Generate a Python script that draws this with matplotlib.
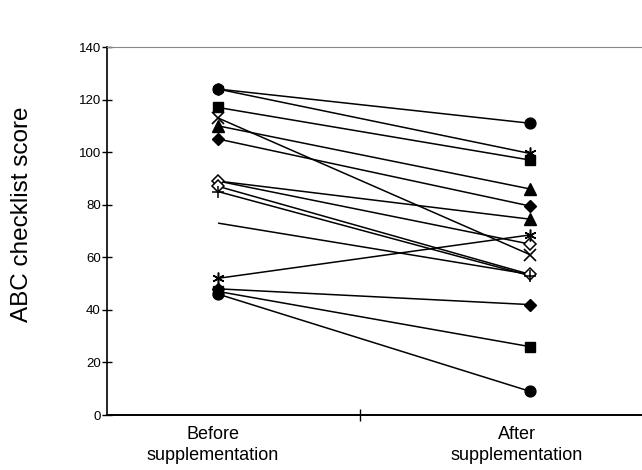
import matplotlib
matplotlib.use("Agg")
import matplotlib.pyplot as plt

plt.rcParams['font.family'] = ['Liberation Sans', 'DejaVu Sans']

# ---- data (ABC checklist scores per subject) ----
categories = ["Before\nsupplementation", "After\nsupplementation"]
before = [124, 124, 117, 113, 110, 105, 89, 89, 87, 85, 73, 52, 48, 47, 46]
after = [111, 99.5, 97, 61, 86, 79.5, 74.5, 65, 53.5, 53, 53.5, 68.5, 42, 26, 9]
left_marker = ['circle', 'star', 'square', 'x', 'tri', 'dia', 'none', 'odia', 'odia',
               'plus', 'none', 'star', 'dia', 'square', 'circle']
right_marker = ['circle', 'star', 'square', 'x', 'tri', 'dia', 'tri', 'odia', 'odia',
                'plus', 'none', 'star', 'dia', 'square', 'circle']
yticks = [0, 20, 40, 60, 80, 100, 120, 140]

styles = {
    'circle': dict(marker='o', ms=7.8, mfc='black', mec='black'),
    'square': dict(marker='s', ms=7.5, mfc='black', mec='black'),
    'tri': dict(marker='^', ms=8.0, mfc='black', mec='black'),
    'dia': dict(marker='D', ms=6.3, mfc='black', mec='black'),
    'odia': dict(marker='D', ms=6.3, mfc='white', mec='black', mew=1.1),
    'x': dict(marker='x', ms=8.0, mec='black', mew=1.2),
    'star': dict(marker=(6, 2, 0), ms=8.5, mec='black', mew=1.1),
    'plus': dict(marker='+', ms=8.5, mec='black', mew=1.1),
}

fig = plt.figure(figsize=(6.42, 4.70), dpi=100)
ax = fig.add_axes([107 / 642, 55 / 470, 535 / 642, 368 / 470])

xpos = [0, 1]
for b, a in zip(before, after):
    ax.plot(xpos, [b, a], color='black', lw=1.1, zorder=2, solid_capstyle='butt')
for b, lm in zip(before, left_marker):
    if lm != 'none':
        ax.plot([0], [b], linestyle='none', zorder=3, **styles[lm])
for a, rm in zip(after, right_marker):
    if rm != 'none':
        ax.plot([1], [a], linestyle='none', zorder=3, **styles[rm])

ax.set_xlim(-0.356, 1.359)
ax.set_ylim(0, 140)
ax.set_yticks(yticks)
ax.tick_params(axis='y', direction='inout', length=7, width=1, labelsize=9.5, pad=1)

# category labels (no tick marks), one mid tick mark
ax.set_xticks([-0.016, 0.958])
ax.set_xticklabels(categories, fontsize=13, linespacing=1.3)
ax.tick_params(axis='x', which='major', length=0, pad=8)
ax.set_xticks([0.455], minor=True)
ax.tick_params(axis='x', which='minor', direction='inout', length=8, width=1)

ax.text(-0.159, 0.545, "ABC checklist score", transform=ax.transAxes,
        rotation=90, ha='center', va='center', fontsize=17.5)

ax.spines['right'].set_visible(False)
ax.spines['top'].set_color('#888888')
ax.spines['top'].set_linewidth(0.8)
ax.spines['left'].set_linewidth(1.2)
ax.spines['bottom'].set_linewidth(1.4)

fig.savefig("out.png", dpi=100)
